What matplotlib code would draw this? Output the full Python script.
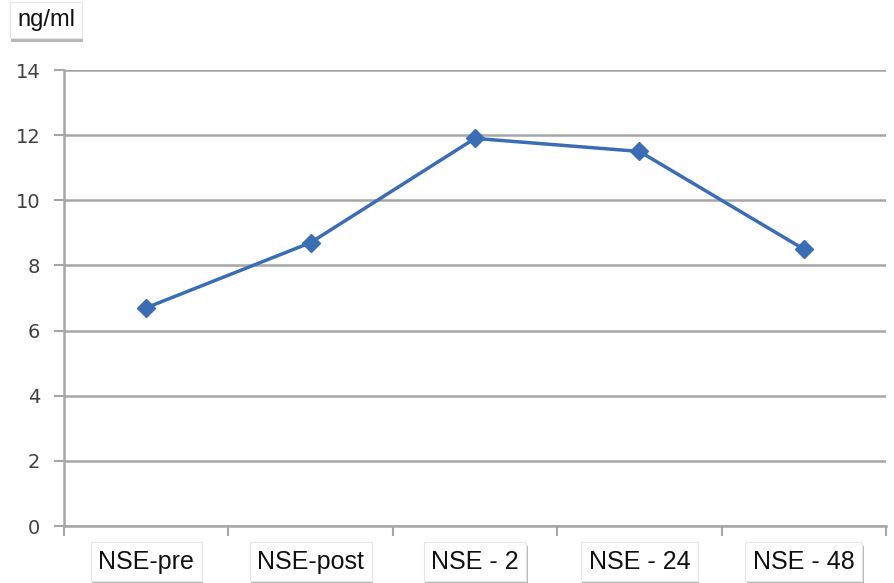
import numpy as np
import matplotlib.pyplot as plt
import matplotlib.patheffects as pe

# NSE concentration at each sampling point
labels = ["NSE-pre", "NSE-post", "NSE - 2", "NSE - 24", "NSE - 48"]
nse = [6.7, 8.7, 11.9, 11.5, 8.5]
yticks = [0, 2, 4, 6, 8, 10, 12, 14]

line_color = "#3b6db5"
grid_color = "#a6a6a6"

fig = plt.figure(figsize=(8.94, 5.83), dpi=100)
ax = fig.add_axes([64/894, 1 - 526/583, 822/894, 456/583])

x = np.arange(len(labels))
ax.plot(x, nse, color=line_color, lw=2.5, marker="D", ms=9,
        markerfacecolor=line_color, markeredgecolor=line_color, zorder=3)

ax.set_xlim(-0.5, len(labels) - 0.5)
ax.set_ylim(0, 14)
ax.set_yticks(yticks)
ax.yaxis.grid(True, color=grid_color, lw=1.8)
ax.set_axisbelow(True)

for s in ["top", "right"]:
    ax.spines[s].set_visible(False)
for s in ["left", "bottom"]:
    ax.spines[s].set_color(grid_color)
    ax.spines[s].set_linewidth(1.8)

ax.tick_params(axis="y", length=7, width=1.5, color=grid_color,
               labelsize=14, labelcolor="#404040", pad=10)

# category boundary ticks on the x axis
ax.set_xticks(np.arange(len(labels) + 1) - 0.5, minor=True)
ax.tick_params(axis="x", which="minor", length=7, width=1.5,
               color=grid_color, direction="out")
ax.set_xticks(x)
ax.set_xticklabels(labels)
ax.tick_params(axis="x", which="major", length=0, pad=17,
               labelsize=18, labelcolor="#111111")

shadow = [pe.withSimplePatchShadow(offset=(1, -3), shadow_rgbFace="#888888", alpha=0.6)]
for t in ax.get_xticklabels():
    t.set_fontfamily("Liberation Sans")
    t.set_bbox(dict(boxstyle="square,pad=0.3", fc="white", ec="#e6e6e6", lw=0.8))
    t.get_bbox_patch().set_path_effects(shadow)

unit = fig.text(17/894, 1 - 20/583, "ng/ml", fontsize=17, family="Liberation Sans",
                ha="left", va="center", color="#111111",
                bbox=dict(boxstyle="square,pad=0.3", fc="white", ec="#e6e6e6", lw=0.8))
unit.get_bbox_patch().set_path_effects(shadow)

fig.savefig("out.png", dpi=100, facecolor="white")
